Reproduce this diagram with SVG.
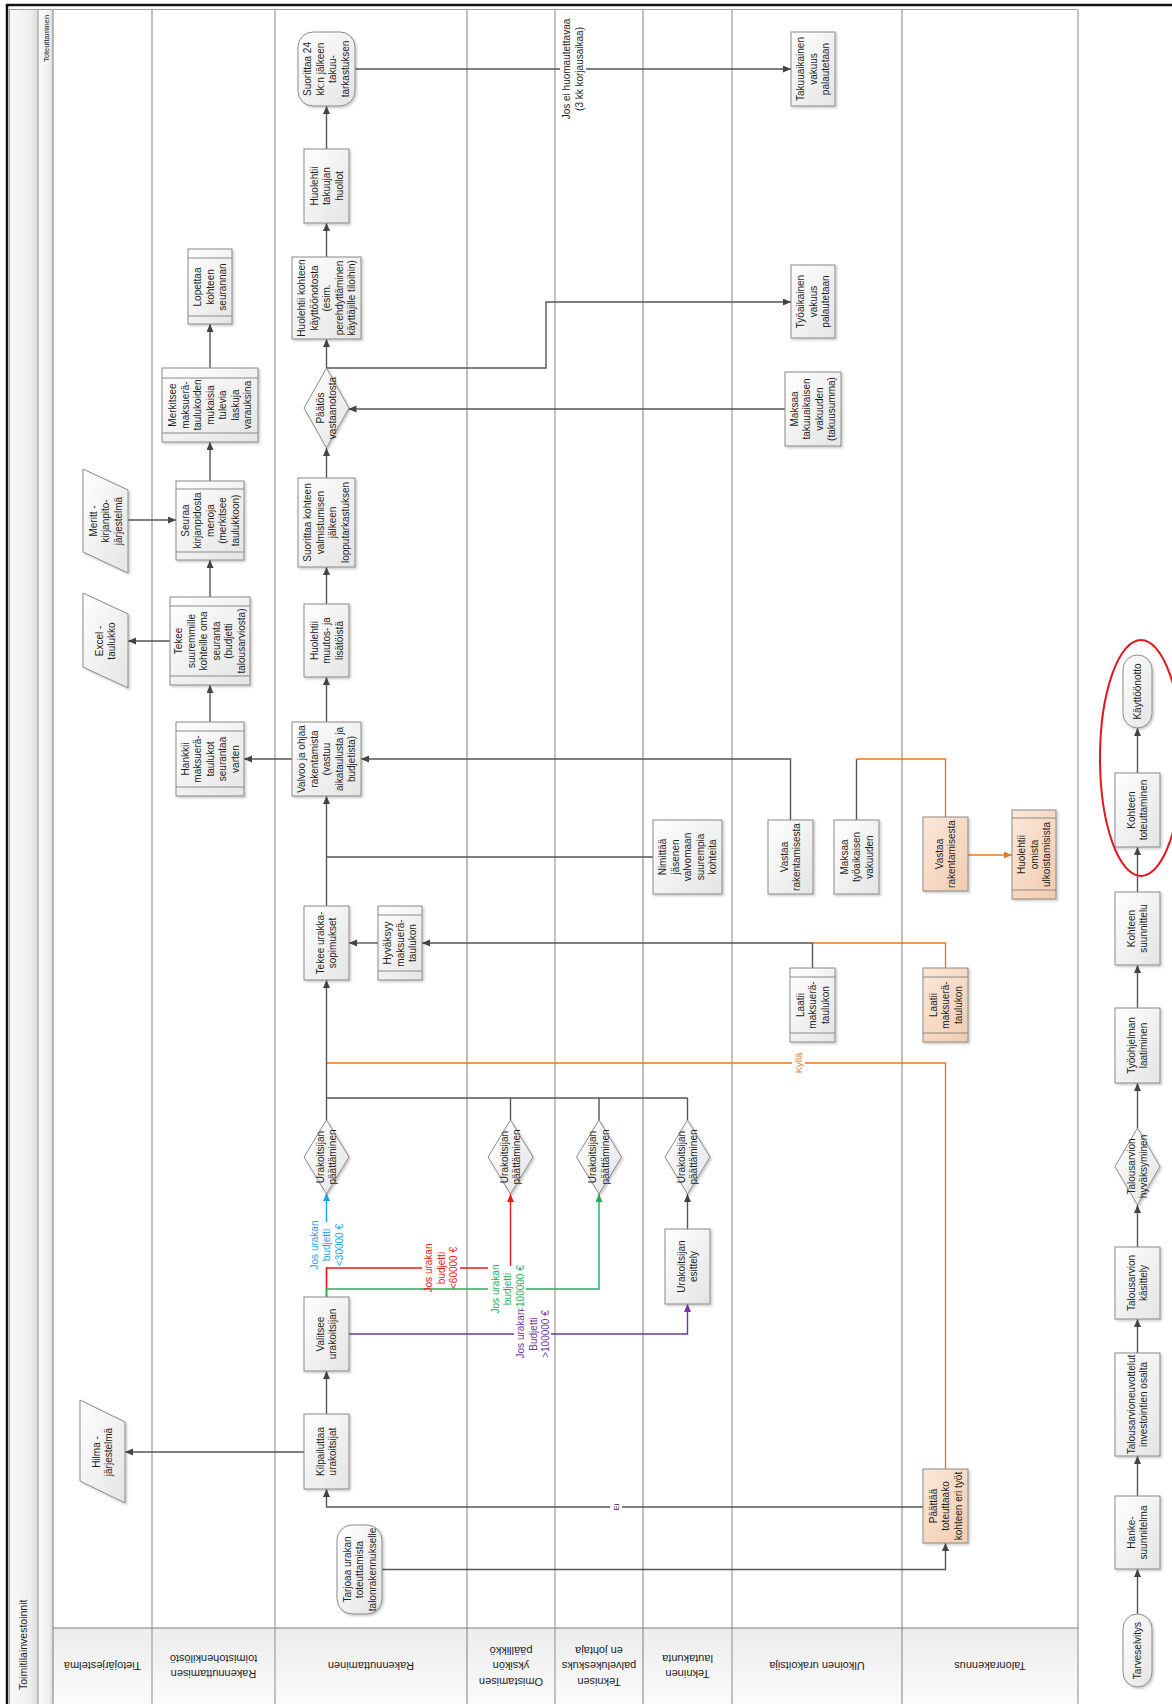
<svg xmlns="http://www.w3.org/2000/svg" width="1172" height="1704" viewBox="0 0 1172 1704">
<style>
.ln{stroke:#7f7f7f;stroke-width:1}
.ln2{stroke:#b3b3b3;stroke-width:1.6}
.bx{fill:url(#gw);stroke:#8a8a8a;stroke-width:1;filter:url(#sh)}
.ob{fill:url(#go);stroke:#8a8a8a;stroke-width:1;filter:url(#sh)}
.bar{stroke:#8a8a8a;stroke-width:1}
.t{font-family:"Liberation Sans",Arial,sans-serif;font-size:10px;fill:#1e1e1e;text-anchor:middle}
.h{font-size:11px}
.c{fill:none;stroke:#555;stroke-width:1.4}
.ca{marker-end:url(#a)}
.co{fill:none;stroke:#e07b2c;stroke-width:1.4}
.lb{fill:#fff}
</style>
<defs>
<linearGradient id="gw" x1="0" y1="0" x2="1" y2="1"><stop offset="0" stop-color="#ffffff"/><stop offset="1" stop-color="#e4e4e4"/></linearGradient>
<linearGradient id="go" x1="0" y1="0" x2="1" y2="1"><stop offset="0" stop-color="#fbe8da"/><stop offset="1" stop-color="#f2cbae"/></linearGradient>
<linearGradient id="gh" x1="0" y1="0" x2="0" y2="1"><stop offset="0" stop-color="#ececec"/><stop offset="1" stop-color="#fbfbfb"/></linearGradient>
<linearGradient id="gl" x1="0" y1="0" x2="1" y2="0"><stop offset="0" stop-color="#fbfbfb"/><stop offset="0.7" stop-color="#f0f0f0"/><stop offset="1" stop-color="#dcdcdc"/></linearGradient>
<filter id="sh" x="-20%" y="-20%" width="140%" height="140%"><feDropShadow dx="1.5" dy="1.5" stdDeviation="0.8" flood-color="#000" flood-opacity="0.22"/></filter>
<marker id="a" markerUnits="userSpaceOnUse" markerWidth="9" markerHeight="8" refX="8" refY="3.5" orient="auto"><path d="M0,0 L8,3.5 L0,7 z" fill="#444"/></marker>
<marker id="ab" markerUnits="userSpaceOnUse" markerWidth="9" markerHeight="8" refX="8" refY="3.5" orient="auto"><path d="M0,0 L8,3.5 L0,7 z" fill="#12a5ea"/></marker>
<marker id="ar" markerUnits="userSpaceOnUse" markerWidth="9" markerHeight="8" refX="8" refY="3.5" orient="auto"><path d="M0,0 L8,3.5 L0,7 z" fill="#f01818"/></marker>
<marker id="ag" markerUnits="userSpaceOnUse" markerWidth="9" markerHeight="8" refX="8" refY="3.5" orient="auto"><path d="M0,0 L8,3.5 L0,7 z" fill="#1fb154"/></marker>
<marker id="ap" markerUnits="userSpaceOnUse" markerWidth="9" markerHeight="8" refX="8" refY="3.5" orient="auto"><path d="M0,0 L8,3.5 L0,7 z" fill="#7234a6"/></marker>
<marker id="ao" markerUnits="userSpaceOnUse" markerWidth="9" markerHeight="8" refX="8" refY="3.5" orient="auto"><path d="M0,0 L8,3.5 L0,7 z" fill="#e07b2c"/></marker>
</defs>
<rect x="0" y="0" width="1172" height="1704" fill="#fff"/>

<g id="pool">
<rect x="9" y="10" width="29" height="1694" fill="url(#gl)"/>
<rect x="38" y="10" width="15" height="1694" fill="url(#gl)"/>
<rect x="53" y="1628" width="1025" height="76" fill="url(#gh)"/>
<line x1="7" y1="4" x2="7" y2="1704" stroke="#111" stroke-width="2.5"/>
<line x1="6" y1="5" x2="1172" y2="5" stroke="#111" stroke-width="2.5"/>
<line x1="9" y1="9.5" x2="1078" y2="9.5" stroke="#a0a0a0" stroke-width="1.2"/>
<line x1="9.5" y1="9.5" x2="9.5" y2="1704" stroke="#a0a0a0" stroke-width="1"/>
<line x1="38" y1="10" x2="38" y2="1704" class="ln2"/>
<line x1="53" y1="10" x2="53" y2="1704" class="ln"/>
<line x1="152" y1="10" x2="152" y2="1704" class="ln2"/>
<line x1="275" y1="10" x2="275" y2="1704" class="ln2"/>
<line x1="467" y1="10" x2="467" y2="1704" class="ln"/>
<line x1="555" y1="10" x2="555" y2="1704" class="ln2"/>
<line x1="643" y1="10" x2="643" y2="1704" class="ln"/>
<line x1="732" y1="10" x2="732" y2="1704" class="ln2"/>
<line x1="902" y1="10" x2="902" y2="1704" class="ln"/>
<line x1="1078" y1="10" x2="1078" y2="1704" class="ln2"/>
<line x1="53" y1="1628" x2="1078" y2="1628" class="ln"/>
<text class="t" style="font-size:10.5px;text-anchor:start" transform="translate(27,1690) rotate(-90)">Toimitilainvestoinnit</text>
<text class="t" style="font-size:7.5px;text-anchor:start" transform="translate(48.5,62) rotate(-90)">Toteuttaminen</text>
<text class="t h" transform="translate(102.5,1666) rotate(180)"><tspan x="0" y="4">Tietojärjestelmä</tspan></text>
<text class="t h" transform="translate(213.5,1666) rotate(180)"><tspan x="0" y="-3.5">Rakennuttamisen</tspan><tspan x="0" y="11.5">toimistohenkilöstö</tspan></text>
<text class="t h" transform="translate(371,1666) rotate(180)"><tspan x="0" y="4">Rakennuttaminen</tspan></text>
<text class="t h" transform="translate(511,1666) rotate(180)"><tspan x="0" y="-11.5">Omistamisen</tspan><tspan x="0" y="4">yksikön</tspan><tspan x="0" y="19.5">päällikkö</tspan></text>
<text class="t h" transform="translate(599,1666) rotate(180)"><tspan x="0" y="-11.5">Teknisen</tspan><tspan x="0" y="4">palvelukeskuks</tspan><tspan x="0" y="19.5">en johtaja</tspan></text>
<text class="t h" transform="translate(687.5,1666) rotate(180)"><tspan x="0" y="-3.5">Tekninen</tspan><tspan x="0" y="11.5">lautakunta</tspan></text>
<text class="t h" transform="translate(817,1666) rotate(180)"><tspan x="0" y="4">Ulkoinen urakoitsija</tspan></text>
<text class="t h" transform="translate(990,1666) rotate(180)"><tspan x="0" y="4">Talonrakennus</tspan></text>
</g>

<g id="connectors">
<path class="c ca" d="M1137.5,1614 V1569"/>
<path class="c ca" d="M1137.5,1496 V1456"/>
<path class="c ca" d="M1137.5,1353 V1319"/>
<path class="c ca" d="M1137.5,1247 V1205"/>
<path class="c ca" d="M1137.5,1128 V1083"/>
<path class="c ca" d="M1137.5,1008 V965"/>
<path class="c ca" d="M1137.5,892 V847"/>
<path class="c ca" d="M1137.5,773 V728"/>

<path class="c ca" d="M382,1569.5 H945.5 V1543"/>
<path class="c ca" d="M923,1507 H326.5 V1489"/>
<path class="co" d="M945.5,1469 V1063 H326.5"/>
<path class="c ca" d="M304,1452 H125"/>
<path class="c ca" d="M326.5,1414 V1371"/>
<path fill="none" stroke="#12a5ea" stroke-width="1.4" marker-end="url(#ab)" d="M326.5,1297 V1193"/>
<path fill="none" stroke="#f01818" stroke-width="1.4" marker-end="url(#ar)" d="M326.5,1297 V1268 H510.5 V1194"/>
<path fill="none" stroke="#1fb154" stroke-width="1.4" marker-end="url(#ag)" d="M326.5,1297 V1289 H599 V1194"/>
<path fill="none" stroke="#7234a6" stroke-width="1.4" marker-end="url(#ap)" d="M349,1334 H687.5 V1304"/>
<path class="c ca" d="M687.5,1229 V1194"/>
<path class="c" d="M510.5,1120 V1098 M599,1120 V1098 M687.5,1120 V1098 M326.5,1098 H687.5"/>
<path class="c ca" d="M326.5,1120 V980"/>
<path class="c ca" d="M812.5,968 V943 H422"/>
<path class="co" d="M945.5,968 V943 H812.5"/>
<path class="c ca" d="M378,943 H349"/>
<path class="c ca" d="M326.5,906 V796"/>
<path class="c" d="M326.5,857 H653"/>
<path class="c ca" d="M790.5,820 V759 H361"/>
<path class="c" d="M856.5,820 V759"/>
<path class="co" d="M945.5,817 V759 H856.5"/>
<path class="co" marker-end="url(#ao)" d="M968,855 H1012"/>
<path class="c ca" d="M292,759 H244"/>
<path class="c ca" d="M210,722 V685"/>
<path class="c ca" d="M170,641 H128"/>
<path class="c ca" d="M210,597 V560"/>
<path class="c ca" d="M128,520 H176"/>
<path class="c ca" d="M210,481 V442"/>
<path class="c ca" d="M210,368 V324"/>
<path class="c ca" d="M326.5,722 V677"/>
<path class="c ca" d="M326.5,604 V567"/>
<path class="c ca" d="M326.5,478 V448"/>
<path class="c ca" d="M785,409 H348.5"/>
<path class="c ca" d="M326.5,368 V339"/>
<path class="c ca" d="M326.5,368 H546 V302 H791"/>
<path class="c ca" d="M326.5,257 V223"/>
<path class="c ca" d="M326.5,149 V106"/>
<path class="c ca" d="M355,69 H791"/>

<rect class="lb" x="610" y="1501" width="12" height="12"/>
<text class="t" style="font-size:8px" transform="translate(616,1507) rotate(-90)"><tspan x="0" y="3">Ei</tspan></text>
<rect class="lb" x="792" y="1049" width="13" height="28"/>
<text class="t" style="fill:#e07b2c;font-size:9.5px" transform="translate(798.5,1063) rotate(-90)"><tspan x="0" y="3.3">Kyllä</tspan></text>
<rect class="lb" x="308" y="1222" width="37" height="45"/>
<text class="t" style="fill:#12a5ea" transform="translate(326.5,1245) rotate(-90)"><tspan x="0" y="-9">Jos urakan</tspan><tspan x="0" y="3.5">budjetti</tspan><tspan x="0" y="16">&lt;30000 €</tspan></text>
<rect class="lb" x="422" y="1246" width="38" height="41"/>
<text class="t" style="fill:#f01818" transform="translate(441,1268) rotate(-90)"><tspan x="0" y="-9">Jos urakan</tspan><tspan x="0" y="3.5">budjetti</tspan><tspan x="0" y="16">&lt;60000 €</tspan></text>
<rect class="lb" x="488" y="1266" width="38" height="46"/>
<text class="t" style="fill:#1fb154" transform="translate(507.5,1289) rotate(-90)"><tspan x="0" y="-9">Jos urakan</tspan><tspan x="0" y="3.5">budjetti</tspan><tspan x="0" y="16">&lt;100000 €</tspan></text>
<rect class="lb" x="514" y="1310" width="37" height="48"/>
<text class="t" style="fill:#7234a6" transform="translate(533,1334) rotate(-90)"><tspan x="0" y="-9">Jos urakan</tspan><tspan x="0" y="3.5">Budjetti</tspan><tspan x="0" y="16">&gt;100000 €</tspan></text>
<rect class="lb" x="560" y="20" width="26" height="98"/>
<text class="t" transform="translate(573,69) rotate(-90)"><tspan x="0" y="-2.75">Jos ei huomautettavaa</tspan><tspan x="0" y="9.75">(3 kk korjausaikaa)</tspan></text>
</g>

<g id="n-meritt"><polygon class="bx" points="83,469 128,490 128,573 83,552"/>
<text class="t" transform="translate(105.5,521) rotate(-90)"><tspan x="0" y="-9">Meritt -</tspan><tspan x="0" y="3.5">kirjanpito-</tspan><tspan x="0" y="16">järjestelmä</tspan></text></g>
<g id="n-excel"><polygon class="bx" points="83,593 128,614 128,688 83,667"/>
<text class="t" transform="translate(105.5,641) rotate(-90)"><tspan x="0" y="-2.75">Excel -</tspan><tspan x="0" y="9.75">taulukko</tspan></text></g>
<g id="n-hilma"><polygon class="bx" points="80,1400 125,1422 125,1503 80,1481"/>
<text class="t" transform="translate(102.5,1452) rotate(-90)"><tspan x="0" y="-2.75">Hilma -</tspan><tspan x="0" y="9.75">järjestelmä</tspan></text></g>

<g id="n-lopettaa"><rect class="bx" x="188" y="249" width="44" height="75"/><path class="bar" d="M188,258 H232 M188,316 H232"/>
<text class="t" transform="translate(210,287) rotate(-90)"><tspan x="0" y="-9">Lopettaa</tspan><tspan x="0" y="3.5">kohteen</tspan><tspan x="0" y="16">seurannan</tspan></text></g>
<g id="n-merkitsee"><rect class="bx" x="162" y="368" width="96" height="74"/><path class="bar" d="M162,378 H258 M162,433 H258"/>
<text class="t" transform="translate(210,405) rotate(-90)"><tspan x="0" y="-34">Merkitsee</tspan><tspan x="0" y="-21.5">maksuerä-</tspan><tspan x="0" y="-9">taulukoiden</tspan><tspan x="0" y="3.5">mukaisia</tspan><tspan x="0" y="16">tulevia</tspan><tspan x="0" y="28.5">laskuja</tspan><tspan x="0" y="41">varauksina</tspan></text></g>
<g id="n-seuraa"><rect class="bx" x="176" y="481" width="68" height="79"/><path class="bar" d="M176,489 H244 M176,552 H244"/>
<text class="t" transform="translate(210,520.5) rotate(-90)"><tspan x="0" y="-21.5">Seuraa</tspan><tspan x="0" y="-9">kirjanpidosta</tspan><tspan x="0" y="3.5">menoja</tspan><tspan x="0" y="16">(merkitsee</tspan><tspan x="0" y="28.5">taulukkoon)</tspan></text></g>
<g id="n-tekeeseuranta"><rect class="bx" x="170" y="597" width="80" height="88"/><path class="bar" d="M170,606 H250 M170,676 H250"/>
<text class="t" transform="translate(210,641) rotate(-90)"><tspan x="0" y="-27.75">Tekee</tspan><tspan x="0" y="-15.25">suuremmille</tspan><tspan x="0" y="-2.75">kohteille oma</tspan><tspan x="0" y="9.75">seuranta</tspan><tspan x="0" y="22.25">(budjetti</tspan><tspan x="0" y="34.75">talousarviosta)</tspan></text></g>
<g id="n-hankkii"><rect class="bx" x="176" y="722" width="68" height="74"/><path class="bar" d="M176,731 H244 M176,787 H244"/>
<text class="t" transform="translate(210,759) rotate(-90)"><tspan x="0" y="-21.5">Hankkii</tspan><tspan x="0" y="-9">maksuerä-</tspan><tspan x="0" y="3.5">taulukot</tspan><tspan x="0" y="16">seurantaa</tspan><tspan x="0" y="28.5">varten</tspan></text></g>

<g id="n-takuutark"><rect class="bx" x="298" y="32" width="57" height="74" rx="15"/>
<text class="t" transform="translate(326.5,69) rotate(-90)"><tspan x="0" y="-15.25">Suorittaa 24</tspan><tspan x="0" y="-2.75">kk:n jälkeen</tspan><tspan x="0" y="9.75">takuu-</tspan><tspan x="0" y="22.25">tarkastuksen</tspan></text></g>
<g id="n-takuujan"><rect class="bx" x="304" y="149" width="45" height="74"/>
<text class="t" transform="translate(326.5,186) rotate(-90)"><tspan x="0" y="-9">Huolehtii</tspan><tspan x="0" y="3.5">takuujan</tspan><tspan x="0" y="16">huollot</tspan></text></g>
<g id="n-kayttoon"><rect class="bx" x="292" y="257" width="69" height="82"/>
<text class="t" transform="translate(326.5,298) rotate(-90)"><tspan x="0" y="-21.5">Huolehtii kohteen</tspan><tspan x="0" y="-9">käyttöönotosta</tspan><tspan x="0" y="3.5">(esim.</tspan><tspan x="0" y="16">perehdyttäminen</tspan><tspan x="0" y="28.5">käyttäjille tiloihin)</tspan></text></g>
<g id="n-paatos"><polygon class="bx" points="326.5,368 349,408 326.5,448 304,408"/>
<text class="t" transform="translate(326.5,408) rotate(-90)"><tspan x="0" y="-2.75">Päätös</tspan><tspan x="0" y="9.75">vastaanotosta</tspan></text></g>
<g id="n-lopputark"><rect class="bx" x="298" y="478" width="57" height="89"/>
<text class="t" transform="translate(326.5,522.5) rotate(-90)"><tspan x="0" y="-15.25">Suorittaa kohteen</tspan><tspan x="0" y="-2.75">valmistumisen</tspan><tspan x="0" y="9.75">jälkeen</tspan><tspan x="0" y="22.25">lopputarkastuksen</tspan></text></g>
<g id="n-muutos"><rect class="bx" x="304" y="604" width="45" height="73"/>
<text class="t" transform="translate(326.5,640.5) rotate(-90)"><tspan x="0" y="-9">Huolehtii</tspan><tspan x="0" y="3.5">muutos- ja</tspan><tspan x="0" y="16">lisätöistä</tspan></text></g>
<g id="n-valvoo"><rect class="bx" x="292" y="722" width="69" height="74"/>
<text class="t" transform="translate(326.5,759) rotate(-90)"><tspan x="0" y="-21.5">Valvoo ja ohjaa</tspan><tspan x="0" y="-9">rakentamista</tspan><tspan x="0" y="3.5">(vastuu</tspan><tspan x="0" y="16">aikataulusta ja</tspan><tspan x="0" y="28.5">budjetista)</tspan></text></g>
<g id="n-tekeeurakka"><rect class="bx" x="304" y="906" width="45" height="74"/>
<text class="t" transform="translate(326.5,943) rotate(-90)"><tspan x="0" y="-2.75">Tekee urakka-</tspan><tspan x="0" y="9.75">sopimukset</tspan></text></g>
<g id="n-hyvaksyy"><rect class="bx" x="378" y="906" width="44" height="74"/><path class="bar" d="M378,915 H422 M378,971 H422"/>
<text class="t" transform="translate(400,943) rotate(-90)"><tspan x="0" y="-9">Hyväksyy</tspan><tspan x="0" y="3.5">maksuerä-</tspan><tspan x="0" y="16">taulukon</tspan></text></g>
<g id="n-paatt3"><polygon class="bx" points="326.5,1120 349,1157 326.5,1194 304,1157"/>
<text class="t" transform="translate(326.5,1157) rotate(-90)"><tspan x="0" y="-2.75">Urakoitsijan</tspan><tspan x="0" y="9.75">päättäminen</tspan></text></g>
<g id="n-valitsee"><rect class="bx" x="304" y="1297" width="45" height="74"/>
<text class="t" transform="translate(326.5,1334) rotate(-90)"><tspan x="0" y="-2.75">Valitsee</tspan><tspan x="0" y="9.75">urakoitsijan</tspan></text></g>
<g id="n-kilpailuttaa"><rect class="bx" x="304" y="1414" width="45" height="75"/>
<text class="t" transform="translate(326.5,1451.5) rotate(-90)"><tspan x="0" y="-2.75">Kilpailuttaa</tspan><tspan x="0" y="9.75">urakoitsijat</tspan></text></g>
<g id="n-tarjoaa"><rect class="bx" x="337" y="1525" width="45" height="89" rx="15"/>
<text class="t" transform="translate(359.5,1569.5) rotate(-90)"><tspan x="0" y="-9">Tarjoaa urakan</tspan><tspan x="0" y="3.5">toteuttamista</tspan><tspan x="0" y="16">talonrakennukselle</tspan></text></g>

<g id="n-paatt4"><polygon class="bx" points="510.5,1120 533,1157 510.5,1194 488,1157"/>
<text class="t" transform="translate(510.5,1157) rotate(-90)"><tspan x="0" y="-2.75">Urakoitsijan</tspan><tspan x="0" y="9.75">päättäminen</tspan></text></g>
<g id="n-paatt5"><polygon class="bx" points="599,1120 621.5,1157 599,1194 576.5,1157"/>
<text class="t" transform="translate(599,1157) rotate(-90)"><tspan x="0" y="-2.75">Urakoitsijan</tspan><tspan x="0" y="9.75">päättäminen</tspan></text></g>
<g id="n-paatt6"><polygon class="bx" points="687.5,1120 710,1157 687.5,1194 665,1157"/>
<text class="t" transform="translate(687.5,1157) rotate(-90)"><tspan x="0" y="-2.75">Urakoitsijan</tspan><tspan x="0" y="9.75">päättäminen</tspan></text></g>
<g id="n-esittely"><rect class="bx" x="665" y="1229" width="45" height="75"/>
<text class="t" transform="translate(687.5,1266.5) rotate(-90)"><tspan x="0" y="-2.75">Urakoitsijan</tspan><tspan x="0" y="9.75">esittely</tspan></text></g>
<g id="n-nimittaa"><rect class="bx" x="653" y="820" width="69" height="74"/>
<text class="t" transform="translate(687.5,857) rotate(-90)"><tspan x="0" y="-21.5">Nimittää</tspan><tspan x="0" y="-9">jäsenen</tspan><tspan x="0" y="3.5">valvomaan</tspan><tspan x="0" y="16">suurempia</tspan><tspan x="0" y="28.5">kohteita</tspan></text></g>

<g id="n-takuuvakuus"><rect class="bx" x="791" y="32" width="44" height="74"/>
<text class="t" transform="translate(813,69) rotate(-90)"><tspan x="0" y="-9">Takuuaikainen</tspan><tspan x="0" y="3.5">vakuus</tspan><tspan x="0" y="16">palautetaan</tspan></text></g>
<g id="n-tyovakuus"><rect class="bx" x="791" y="265" width="44" height="73"/>
<text class="t" transform="translate(813,301.5) rotate(-90)"><tspan x="0" y="-9">Työaikainen</tspan><tspan x="0" y="3.5">vakuus</tspan><tspan x="0" y="16">palautetaan</tspan></text></g>
<g id="n-maksaatakuu"><rect class="bx" x="785" y="372" width="56" height="74"/>
<text class="t" transform="translate(813,409) rotate(-90)"><tspan x="0" y="-15.25">Maksaa</tspan><tspan x="0" y="-2.75">takuuaikaisen</tspan><tspan x="0" y="9.75">vakuuden</tspan><tspan x="0" y="22.25">(takuusumma)</tspan></text></g>
<g id="n-vastaa7"><rect class="bx" x="768" y="820" width="45" height="74"/>
<text class="t" transform="translate(790.5,857) rotate(-90)"><tspan x="0" y="-2.75">Vastaa</tspan><tspan x="0" y="9.75">rakentamisesta</tspan></text></g>
<g id="n-maksaatyo"><rect class="bx" x="834" y="820" width="45" height="74"/>
<text class="t" transform="translate(856.5,857) rotate(-90)"><tspan x="0" y="-9">Maksaa</tspan><tspan x="0" y="3.5">työaikaisen</tspan><tspan x="0" y="16">vakuuden</tspan></text></g>
<g id="n-laatii7"><rect class="bx" x="790" y="968" width="45" height="74"/><path class="bar" d="M790,977 H835 M790,1033 H835"/>
<text class="t" transform="translate(812.5,1005) rotate(-90)"><tspan x="0" y="-9">Laatii</tspan><tspan x="0" y="3.5">maksuerä-</tspan><tspan x="0" y="16">taulukon</tspan></text></g>

<g id="n-vastaa8"><rect class="ob" x="923" y="817" width="45" height="74"/>
<text class="t" transform="translate(945.5,854) rotate(-90)"><tspan x="0" y="-2.75">Vastaa</tspan><tspan x="0" y="9.75">rakentamisesta</tspan></text></g>
<g id="n-ulkoistamiset"><rect class="ob" x="1012" y="810" width="44" height="89"/><path class="bar" d="M1012,818 H1056 M1012,890 H1056"/>
<text class="t" transform="translate(1034,854.5) rotate(-90)"><tspan x="0" y="-9">Huolehtii</tspan><tspan x="0" y="3.5">omista</tspan><tspan x="0" y="16">ulkoistamisista</tspan></text></g>
<g id="n-laatii8"><rect class="ob" x="923" y="968" width="45" height="74"/><path class="bar" d="M923,977 H968 M923,1033 H968"/>
<text class="t" transform="translate(945.5,1005) rotate(-90)"><tspan x="0" y="-9">Laatii</tspan><tspan x="0" y="3.5">maksuerä-</tspan><tspan x="0" y="16">taulukon</tspan></text></g>
<g id="n-paattaa"><rect class="ob" x="923" y="1469" width="45" height="74"/>
<text class="t" transform="translate(945.5,1506) rotate(-90)"><tspan x="0" y="-9">Päättää</tspan><tspan x="0" y="3.5">toteuttaako</tspan><tspan x="0" y="16">kohteen eri työt</tspan></text></g>

<g id="n-tarveselvitys"><rect class="bx" x="1123" y="1614" width="29" height="73" rx="14.5"/>
<text class="t" transform="translate(1137.5,1650.5) rotate(-90)"><tspan x="0" y="3.5">Tarveselvitys</tspan></text></g>
<g id="n-hanke"><rect class="bx" x="1115" y="1496" width="45" height="73"/>
<text class="t" transform="translate(1137.5,1532.5) rotate(-90)"><tspan x="0" y="-2.75">Hanke-</tspan><tspan x="0" y="9.75">suunnitelma</tspan></text></g>
<g id="n-neuvottelut"><rect class="bx" x="1115" y="1353" width="45" height="103"/>
<text class="t" transform="translate(1137.5,1404.5) rotate(-90)"><tspan x="0" y="-2.75">Talousarvioneuvottelut</tspan><tspan x="0" y="9.75">investointien osalta</tspan></text></g>
<g id="n-kasittely"><rect class="bx" x="1115" y="1247" width="45" height="72"/>
<text class="t" transform="translate(1137.5,1283) rotate(-90)"><tspan x="0" y="-2.75">Talousarvion</tspan><tspan x="0" y="9.75">käsittely</tspan></text></g>
<g id="n-hyvaksyminen"><polygon class="bx" points="1137.5,1128 1160,1166.5 1137.5,1205 1115,1166.5"/>
<text class="t" transform="translate(1137.5,1166.5) rotate(-90)"><tspan x="0" y="-2.75">Talousarvion</tspan><tspan x="0" y="9.75">hyväksyminen</tspan></text></g>
<g id="n-tyoohjelma"><rect class="bx" x="1115" y="1008" width="45" height="75"/>
<text class="t" transform="translate(1137.5,1045.5) rotate(-90)"><tspan x="0" y="-2.75">Työohjelman</tspan><tspan x="0" y="9.75">laatiminen</tspan></text></g>
<g id="n-suunnittelu"><rect class="bx" x="1115" y="892" width="45" height="73"/>
<text class="t" transform="translate(1137.5,928.5) rotate(-90)"><tspan x="0" y="-2.75">Kohteen</tspan><tspan x="0" y="9.75">suunnittelu</tspan></text></g>
<g id="n-toteuttaminen"><rect class="bx" x="1115" y="773" width="45" height="74"/>
<text class="t" transform="translate(1137.5,810) rotate(-90)"><tspan x="0" y="-2.75">Kohteen</tspan><tspan x="0" y="9.75">toteuttaminen</tspan></text></g>
<g id="n-kayttoonotto"><rect class="bx" x="1123" y="655" width="29" height="73" rx="14.5"/>
<text class="t" transform="translate(1137.5,691.5) rotate(-90)"><tspan x="0" y="3.5">Käyttöönotto</tspan></text></g>
<g id="highlight"><ellipse cx="1141" cy="758" rx="41" ry="118" fill="none" stroke="#e8141b" stroke-width="2"/></g>
</svg>
